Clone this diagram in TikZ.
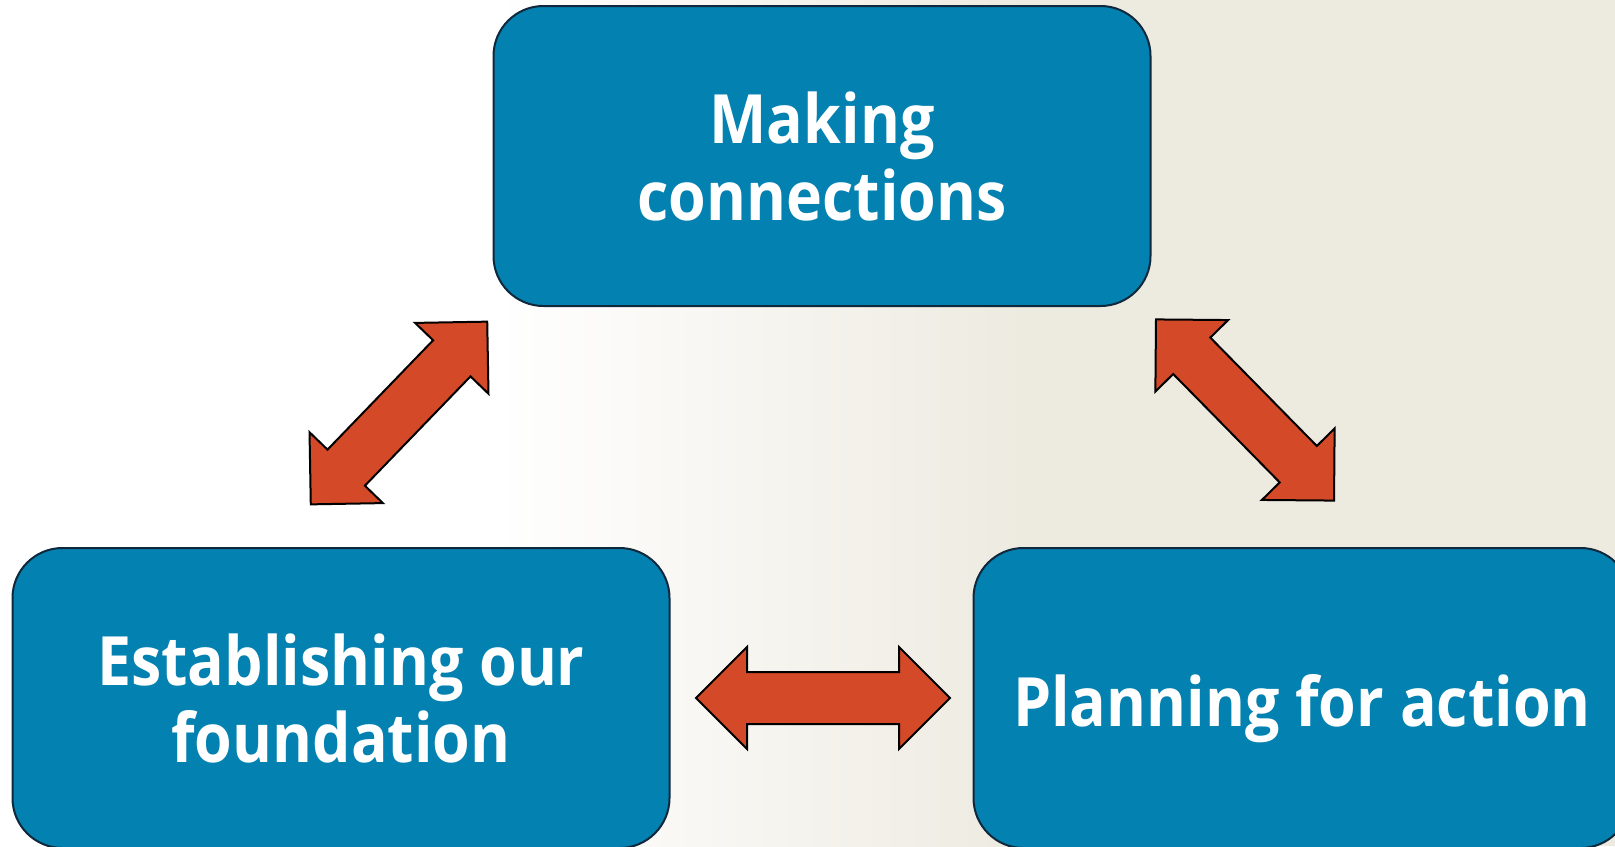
\documentclass[tikz,border=0pt]{standalone}
\usepackage{fontspec}
\setmainfont{Open Sans}[FakeStretch=0.895]
\usetikzlibrary{shapes.arrows}

\definecolor{boxblue}{RGB}{3,129,176}
\definecolor{boxline}{RGB}{16,40,60}
\definecolor{arrowred}{RGB}{212,73,40}
\definecolor{bgbeige}{RGB}{237,234,224}

\tikzset{
  stage/.style={draw=boxline, line width=1pt, fill=boxblue, rounded corners=25pt,
    minimum width=328.5pt, minimum height=150pt, text=white, align=center,
    font=\bfseries\fontsize{34}{38.5}\selectfont},
  link/.style={double arrow, draw=black, line width=1pt, fill=arrowred,
    inner xsep=0pt, inner ysep=12.5pt, minimum height=127pt,
    double arrow head extend=12.5pt}
}

\begin{document}
\begin{tikzpicture}[x=0.5pt, y=-0.5pt]
    \useasboundingbox (0,0) rectangle (1615,846);
    \clip (0,0) rectangle (1615,846);
    % background
    \fill[white] (0,0) rectangle (495,846);
    \shade[left color=white, right color=bgbeige] (495,0) rectangle (1030,846);
    \fill[bgbeige] (1030,0) rectangle (1615,846);
    % stages
    \node[stage] (connect) at (822,156) {Making\\connections};
    \node[stage] (found) at (341,698) {Establishing our\\foundation};
    \node[stage] (plan) at (1302,698) {\raisebox{-14pt}[0pt][0pt]{Planning for action}};
    % links
    \node[link, rotate=46] (foundconnect) at (399,413) {};
    \node[link, rotate=-45.5] (connectplan) at (1245,410) {};
    \node[link] (foundplan) at (823,698) {};
\end{tikzpicture}
\end{document}
